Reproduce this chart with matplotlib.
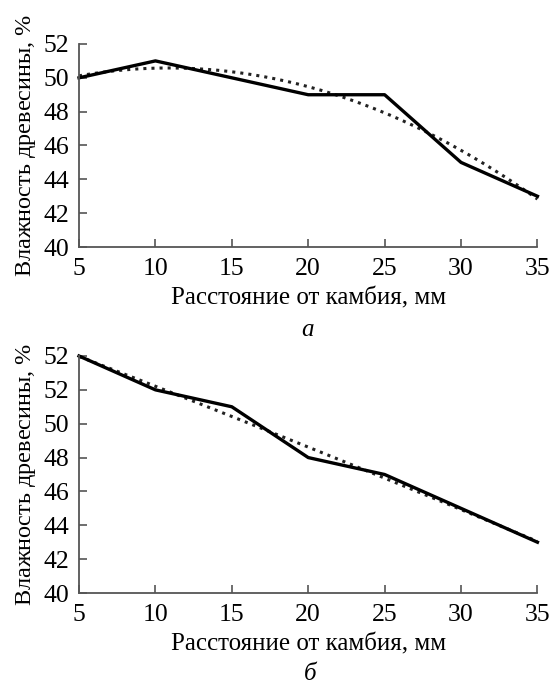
import numpy as np
import matplotlib
matplotlib.use('Agg')
import matplotlib.pyplot as plt

plt.rcParams['font.family'] = ['Liberation Serif', 'DejaVu Serif']
plt.rcParams['mathtext.fontset'] = 'custom'
plt.rcParams['mathtext.it'] = 'Liberation Serif:italic'
plt.rcParams['mathtext.rm'] = 'Liberation Serif'

# distance from cambium, mm
dist = [5, 10, 15, 20, 25, 30, 35]
# wood moisture, %
moist_a = [50, 51, 50, 49, 49, 45, 43]
moist_b = [54, 52, 51, 48, 47, 45, 43]

yticks_a = [40, 42, 44, 46, 48, 50, 52]
ylabels_a = ['40', '42', '44', '46', '48', '50', '52']
yticks_b = [40, 42, 44, 46, 48, 50, 52, 54]
ylabels_b = ['40', '42', '44', '46', '48', '50', '52', '52']

xlabel = 'Расстояние от камбия, мм'
ylabel = 'Влажность древесины, $\\mathit{\\%}$'

fig = plt.figure(figsize=(5.51, 6.85), dpi=100)
ax1 = fig.add_axes([0.1434, 0.6394, 0.832, 0.2964])
ax2 = fig.add_axes([0.1434, 0.1343, 0.832, 0.346])

spine_col = '#555555'
fs = 18.5


def draw(ax, y, yticks, ylabels):
    x = np.array(dist)
    coef = np.polyfit(x, y, 2)
    xs = np.linspace(x.min(), x.max(), 200)
    ax.plot(xs, np.polyval(coef, xs), ':', color='#222222', lw=2.2, clip_on=False)
    ax.plot(x, y, '-', color='black', lw=2.4, clip_on=False)
    ax.set_xlim(5, 35)
    ax.set_ylim(yticks[0], yticks[-1])
    ax.set_xticks(dist)
    ax.set_yticks(yticks)
    ax.set_yticklabels(ylabels)
    for s in ['top', 'right']:
        ax.spines[s].set_visible(False)
    for s in ['left', 'bottom']:
        ax.spines[s].set_color(spine_col)
        ax.spines[s].set_linewidth(1.3)
    ax.tick_params(direction='in', length=6, width=1.2, color=spine_col,
                   labelsize=fs)
    ax.tick_params(axis='x', pad=8)
    ax.tick_params(axis='y', pad=7)
    ax.set_xlabel(xlabel, fontsize=18, labelpad=5)
    ax.set_ylabel(ylabel, fontsize=17.5, labelpad=4)


draw(ax1, moist_a, yticks_a, ylabels_a)
draw(ax2, moist_b, yticks_b, ylabels_b)

fig.text(307 / 551, 1 - 330 / 685, 'а', fontsize=18, style='italic', ha='center', va='center')
fig.text(310 / 551, 1 - 674 / 685, 'б', fontsize=18, style='italic', ha='center', va='center')

plt.savefig('out.png', dpi=100)
